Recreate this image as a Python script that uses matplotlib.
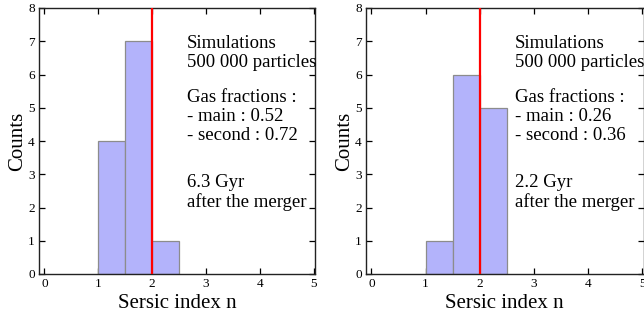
import matplotlib
matplotlib.use("Agg")
import matplotlib.pyplot as plt

plt.rcParams['font.family'] = ['Liberation Serif', 'DejaVu Serif']

bin_edges = [1.0, 1.5, 2.0, 2.5]
counts_left = [4, 7, 1]
counts_right = [1, 6, 5]
ref_line = 2.0
xticks = [0, 1, 2, 3, 4, 5]
yticks = [0, 1, 2, 3, 4, 5, 6, 7, 8]
text_left = ["Simulations", "500 000 particles", "Gas fractions :",
             "- main : 0.52", "- second : 0.72", "6.3 Gyr", "after the merger"]
text_right = ["Simulations", "500 000 particles", "Gas fractions :",
              "- main : 0.26", "- second : 0.36", "2.2 Gyr", "after the merger"]
text_y = [6.80, 6.23, 5.18, 4.61, 4.03, 2.61, 2.02]

W, H = 644, 315
fig = plt.figure(figsize=(W / 100, H / 100), dpi=100)

def make_ax(l, r, b, t):
    return fig.add_axes([l / W, 1 - b / H, (r - l) / W, (b - t) / H])

axes = [make_ax(39, 315, 274, 8), make_ax(366, 643.5, 274, 8)]
for ax, counts, texts in zip(axes, [counts_left, counts_right], [text_left, text_right]):
    lefts = bin_edges[:-1]
    widths = [bin_edges[i + 1] - bin_edges[i] for i in range(len(lefts))]
    ax.bar(lefts, counts, width=widths, align='edge', color='#b3b3fb',
           edgecolor='#8c8c8c', linewidth=0.9, zorder=2)
    ax.axvline(ref_line, color='#ff0000', linewidth=1.6, zorder=3)
    ax.set_xlim(-0.1, 5.02)
    ax.set_ylim(0, 8)
    ax.set_xticks(xticks)
    ax.set_yticks(yticks)
    ax.tick_params(direction='in', top=True, right=True, length=4, width=0.9,
                   labelsize=9.5, pad=3)
    for s in ax.spines.values():
        s.set_linewidth(1.0)
        s.set_color('#222222')
    ax.set_xlabel("Sersic index n", fontsize=15, labelpad=3)
    ax.set_ylabel("Counts", fontsize=15, labelpad=1)
    for txt, yy in zip(texts, text_y):
        ax.text(2.65, yy, txt, fontsize=13.5, va='baseline', ha='left', zorder=4)

fig.savefig("out.png", dpi=100)
